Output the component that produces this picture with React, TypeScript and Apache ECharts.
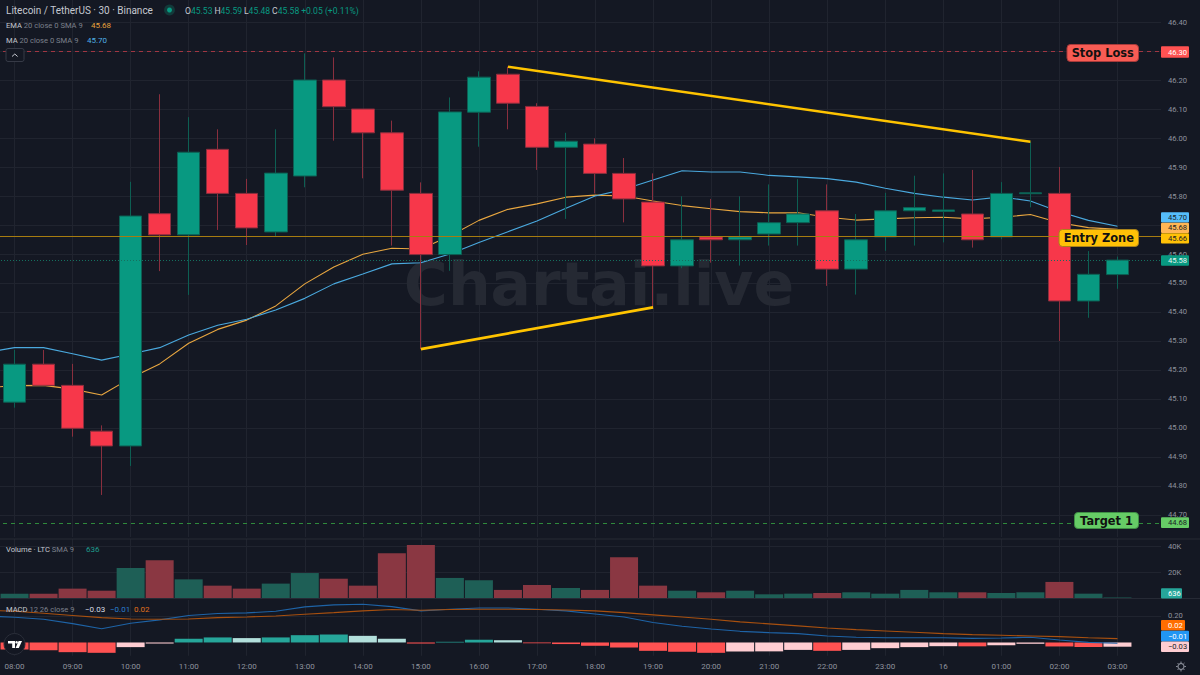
import React, { useEffect, useRef } from "react";
import * as echarts from "echarts";

const times = ["07:30","08:00","08:30","09:00","09:30","10:00","10:30","11:00","11:30","12:00","12:30","13:00","13:30","14:00","14:30","15:00","15:30","16:00","16:30","17:00","17:30","18:00","18:30","19:00","19:30","20:00","20:30","21:00","21:30","22:00","22:30","23:00","23:30","16","00:30","01:00","01:30","02:00","02:30","03:00","03:30"];
const opens = [45.089,45.220,45.147,44.989,44.938,45.739,45.666,45.961,45.809,45.676,45.869,46.200,46.100,46.018,45.809,45.598,46.089,46.220,46.109,45.968,45.979,45.878,45.779,45.559,45.659,45.649,45.669,45.708,45.749,45.548,45.659,45.749,45.747,45.738,45.659,45.808,45.809,45.438,45.529];
const closes = [45.220,45.147,44.999,44.938,45.731,45.666,45.951,45.809,45.690,45.879,46.200,46.108,46.018,45.820,45.598,46.090,46.210,46.120,45.968,45.989,45.878,45.790,45.559,45.649,45.649,45.659,45.708,45.738,45.548,45.649,45.749,45.760,45.752,45.649,45.809,45.811,45.438,45.530,45.579];
const highs = [45.269,45.269,45.221,45.009,45.849,46.151,46.072,46.030,45.859,46.030,46.292,46.278,46.100,46.060,45.847,46.140,46.230,46.246,46.120,46.018,45.999,45.931,45.878,45.799,45.790,45.799,45.840,45.858,45.840,45.738,45.811,45.870,45.878,45.890,45.848,45.987,45.900,45.610,45.591];
const lows = [45.070,45.147,44.970,44.769,44.869,45.541,45.459,45.683,45.631,45.659,45.830,45.991,45.861,45.629,45.272,45.542,45.970,46.030,45.890,45.721,45.809,45.709,45.416,45.551,45.570,45.560,45.629,45.629,45.490,45.460,45.611,45.629,45.640,45.622,45.651,45.761,45.300,45.380,45.480];
const maValues = [45.260,45.277,45.277,45.256,45.234,45.255,45.277,45.321,45.354,45.375,45.407,45.447,45.497,45.531,45.566,45.570,45.600,45.640,45.677,45.714,45.758,45.800,45.823,45.855,45.887,45.883,45.883,45.871,45.866,45.860,45.848,45.827,45.809,45.796,45.786,45.797,45.783,45.746,45.716,45.696];
const emaValues = [45.138,45.146,45.147,45.134,45.114,45.172,45.221,45.292,45.340,45.372,45.421,45.497,45.555,45.599,45.620,45.617,45.662,45.716,45.754,45.773,45.796,45.803,45.800,45.783,45.767,45.756,45.746,45.742,45.742,45.727,45.717,45.721,45.725,45.727,45.721,45.727,45.736,45.708,45.691,45.685];
const volumes = [3600,3600,7500,5900,23500,29500,14700,9800,7500,11400,19600,15200,9800,34900,41300,15800,14000,6500,10300,8000,6500,31800,9800,5900,4650,5900,3100,3600,4100,4650,3600,6500,4650,4650,4100,4650,12700,3600,636];
const histogram = [-0.053,-0.058,-0.073,-0.078,-0.035,-0.008,0.028,0.038,0.033,0.038,0.055,0.06,0.05,0.028,-0.008,0.005,0.02,0.017,-0.006,-0.012,-0.025,-0.038,-0.063,-0.07,-0.078,-0.068,-0.067,-0.056,-0.063,-0.056,-0.043,-0.035,-0.028,-0.029,-0.02,-0.01,-0.03,-0.034,-0.032];
const macdLine = [0.2,0.19,0.175,0.142,0.104,0.145,0.17,0.203,0.218,0.223,0.235,0.268,0.283,0.288,0.27,0.238,0.25,0.26,0.26,0.25,0.238,0.215,0.192,0.15,0.122,0.102,0.084,0.074,0.067,0.049,0.039,0.036,0.036,0.036,0.031,0.034,0.039,0.019,0.001,-0.006];
const signalLine = [0.243,0.235,0.22,0.203,0.187,0.177,0.175,0.177,0.187,0.192,0.2,0.213,0.225,0.238,0.248,0.243,0.248,0.25,0.25,0.248,0.245,0.238,0.225,0.208,0.192,0.175,0.155,0.14,0.125,0.109,0.097,0.087,0.077,0.067,0.059,0.054,0.049,0.044,0.036,0.029];
const priceTicks = [46.4,46.3,46.2,46.1,46.0,45.9,45.8,45.7,45.6,45.5,45.4,45.3,45.2,45.1,45.0,44.9,44.8,44.7];
const volumeTicks = [20000,40000];
const macdTicks = [0.2];
const stopLoss = 46.298;
const entryZone = 45.655;
const target1 = 44.675;
const lastClose = 45.58;
const trendUpper = [["16:30",46.246],["01:30",45.987]];
const trendLower = [["15:00",45.272],["19:00",45.416]];

const SHIFT = 29;
const BG = "#141823";
const GRID = "#20242f";
const AXIS_TEXT = "#8f939e";
const UP = "#089981";
const DOWN = "#f7374a";
const FONT = "Roboto";

function hourly(i: number) { return i % 2 === 1; }

function xAxis(gridIndex: number, showLabel: boolean) {
  return {
    type: "category", gridIndex, data: times, boundaryGap: true,
    axisLine: { show: false },
    axisTick: { show: false, alignWithLabel: true, interval: (i: number) => hourly(i) },
    splitLine: { show: true, alignWithLabel: true, interval: (i: number) => hourly(i), lineStyle: { color: GRID, width: 1 } },
    axisLabel: { show: showLabel, interval: (i: number) => hourly(i), color: AXIS_TEXT, fontSize: 8, fontFamily: FONT, margin: 7 },
  };
}
function yAxis(gridIndex: number, min: number, max: number, ticks: number[], fmt: (v: number) => string) {
  return {
    type: "value", gridIndex, position: "right", min, max, scale: true,
    axisLine: { show: false },
    axisTick: { show: false, customValues: ticks },
    splitLine: { show: true, lineStyle: { color: GRID, width: 1 } },
    axisLabel: { customValues: ticks, formatter: fmt, color: AXIS_TEXT, fontSize: 7.6, fontFamily: FONT, margin: 7 },
  };
}
function levelSeries(name: string, value: number, color: string, type: any, width = 1) {
  return {
    name, type: "line", xAxisIndex: 0, yAxisIndex: 0, z: 1, data: emaValues, showSymbol: false, symbol: "none",
    lineStyle: { opacity: 0, width: 0 },
    itemStyle: { color },
    markLine: {
      silent: true, symbol: "none", animation: false,
      lineStyle: { color, width, type, opacity: 1 }, label: { show: false },
      data: [{ yAxis: value }],
    },
  };
}

const sty = (fill: string, extra: object = {}) => ({ fill, fontSize: 7.6, fontFamily: FONT, ...extra });

function legend(x: number, y: number, text: string, rich: any, z = 50) {
  return { type: "text", x, y, z, style: { text, rich, fontFamily: FONT, fontSize: 7.6, fill: "#c5c8d0", verticalAlign: "middle", textVerticalAlign: "middle" } };
}
function axisTag(x1: number, x2: number, y1: number, y2: number, fill: string, textFill: string, text: string) {
  return [
    { type: "rect", z: 60, shape: { x: x1, y: y1, width: x2 - x1, height: y2 - y1, r: 1 }, style: { fill } },
    { type: "text", z: 61, x: x1 + 7, y: (y1 + y2) / 2, style: { text, fill: textFill, fontFamily: FONT, fontSize: 7.6, verticalAlign: "middle", textVerticalAlign: "middle" } },
  ];
}
function pill(x1: number, x2: number, y1: number, y2: number, fill: string, stroke: string, text: string) {
  return [
    { type: "rect", z: 70, shape: { x: x1, y: y1, width: x2 - x1, height: y2 - y1, r: 3.5 }, style: { fill, stroke, lineWidth: 1 } },
    { type: "text", z: 71, x: (x1 + x2) / 2, y: (y1 + y2) / 2, style: { text, fill: "#111111", fontFamily: "DejaVu Sans", fontWeight: "bold", fontSize: 11.4, align: "center", verticalAlign: "middle", textAlign: "center", textVerticalAlign: "middle" } },
  ];
}

function buildGraphics() {
  const rows: any[] = [];
  rows.push({ type: "text", z: 1, x: 599, y: 284, style: { text: "Chartai.live", fill: "#252933", fontFamily: "DejaVu Sans", fontWeight: "bold", fontSize: 60, align: "center", verticalAlign: "middle", textAlign: "center", textVerticalAlign: "middle" } });
  rows.push({ type: "line", z: 40, shape: { x1: 0, y1: 539, x2: 1200, y2: 539 }, style: { stroke: "#262a35", lineWidth: 1 } });
  rows.push({ type: "line", z: 40, shape: { x1: 0, y1: 598.5, x2: 1200, y2: 598.5 }, style: { stroke: "#262a35", lineWidth: 1 } });

  rows.push(legend(6, 10.5, "Litecoin / TetherUS · 30 · Binance", {}, 50));
  rows[rows.length - 1].style.fontSize = 10;
  rows.push({ type: "circle", z: 50, shape: { cx: 169.5, cy: 10, r: 5.4 }, style: { fill: "#123a3a" } });
  rows.push({ type: "circle", z: 51, shape: { cx: 169.5, cy: 10, r: 2.5 }, style: { fill: UP } });
  rows.push(legend(185, 10.5, "{k|O}{v|45.53} {k|H}{v|45.59} {k|L}{v|45.48} {k|C}{v|45.58} {v|+0.05 (+0.11%)}", { k: sty("#c5c8d0", { fontSize: 8.6 }), v: sty(UP, { fontSize: 8.6 }) }));
  rows.push(legend(6, 25.5, "{a|EMA} {b|20 close 0 SMA 9}", { a: sty("#c5c8d0"), b: sty("#7d818c") }));
  rows.push(legend(91, 25.5, "{c|45.68}", { c: sty("#e8a33d", { fontSize: 8 }) }));
  rows.push(legend(6, 40.5, "{a|MA} {b|20 close 0 SMA 9}", { a: sty("#c5c8d0"), b: sty("#7d818c") }));
  rows.push(legend(87, 40.5, "{c|45.70}", { c: sty("#4fb0e6", { fontSize: 8 }) }));
  rows.push({ type: "rect", z: 50, shape: { x: 6, y: 48.5, width: 18, height: 13, r: 2 }, style: { fill: BG, stroke: "#363a46", lineWidth: 1 } });
  rows.push({ type: "polyline", z: 51, shape: { points: [[12, 56.5], [14.8, 54], [17.6, 56.5]] }, style: { stroke: "#c5c8d0", lineWidth: 1, fill: "none" } });

  rows.push(legend(6, 549.5, "{a|Volume · LTC} {b|SMA 9}", { a: sty("#c5c8d0"), b: sty("#7d818c") }));
  rows.push(legend(86, 549.5, "{c|636}", { c: sty("#1f9e8c", { fontSize: 8 }) }));
  rows.push(legend(6, 609, "{a|MACD} {b|12 26 close 9}", { a: sty("#c5c8d0"), b: sty("#7d818c") }));
  rows.push(legend(85, 609, "{a|−0.03}", { a: sty("#d8dae0", { fontSize: 8 }) }));
  rows.push(legend(110, 609, "{a|−0.01}", { a: sty("#2b7fd0", { fontSize: 8 }) }));
  rows.push(legend(134, 609, "{a|0.02}", { a: sty("#e0701c", { fontSize: 8 }) }));

  rows.push({ type: "circle", z: 50, shape: { cx: 14.5, cy: 644, r: 10.5 }, style: { fill: "#131722", stroke: "#2a2e39", lineWidth: 1 } });
  rows.push({ type: "polygon", z: 51, shape: { points: [[8, 641], [15, 641], [15, 648], [12.2, 648], [12.2, 643.6], [8, 643.6]] }, style: { fill: "#ffffff" } });
  rows.push({ type: "circle", z: 51, shape: { cx: 16.6, cy: 642.3, r: 1.3 }, style: { fill: "#ffffff" } });
  rows.push({ type: "polygon", z: 51, shape: { points: [[18.6, 641], [22, 641], [18.8, 648], [15.6, 648]] }, style: { fill: "#ffffff" } });

  rows.push(...axisTag(1161, 1189, 46.3, 57.7, "#ff5252", "#ffffff", "46.30"));
  rows.push(...axisTag(1161, 1189, 212.3, 222.6, "#55bdfb", "#1a1d26", "45.70"));
  rows.push(...axisTag(1161, 1189, 222.8, 233, "#ffb655", "#1a1d26", "45.68"));
  rows.push(...axisTag(1161, 1189, 233.2, 243.4, "#ffc107", "#1a1d26", "45.66"));
  rows.push(...axisTag(1161, 1189, 255.3, 265.7, "#089981", "#e8f5f2", "45.58"));
  rows.push(...axisTag(1161, 1189, 517.3, 528, "#66cc66", "#1a1d26", "44.68"));
  rows.push(...axisTag(1161, 1182, 588.3, 598.5, "#26a69a", "#ffffff", "636"));
  rows.push(...axisTag(1161, 1185, 620, 630.6, "#ff6d00", "#ffffff", "0.02"));
  rows.push(...axisTag(1161, 1189, 630.8, 641.4, "#2196f3", "#ffffff", "−0.01"));
  rows.push(...axisTag(1161, 1189, 641.6, 652, "#ffcdd2", "#1a1d26", "−0.03"));

  rows.push(...pill(1067, 1138.5, 44.5, 61.5, "#f85c54", "#a83a3a", "Stop Loss"));
  rows.push(...pill(1059, 1138.5, 229.5, 246.5, "#ffc107", "#a9821a", "Entry Zone"));
  rows.push(...pill(1074.5, 1138.5, 512.5, 528.5, "#66cc66", "#3f8f45", "Target 1"));

  rows.push({ type: "ring", z: 50, shape: { cx: 1181, cy: 666.5, r: 3.6, r0: 2.4 }, style: { fill: "#868a95" } });
  [[0, -5], [3.5, -3.5], [5, 0], [3.5, 3.5], [0, 5], [-3.5, 3.5], [-5, 0], [-3.5, -3.5]].forEach(([dx, dy]) => {
    rows.push({ type: "line", z: 50, shape: { x1: 1181 + dx * 0.65, y1: 666.5 + dy * 0.65, x2: 1181 + dx, y2: 666.5 + dy }, style: { stroke: "#868a95", lineWidth: 1 } });
  });
  return rows;
}

export default function App() {
  const ref = useRef<HTMLDivElement>(null);
  useEffect(() => {
    document.body.style.margin = "0";
    document.body.style.background = BG;
    const chart = echarts.init(ref.current!, undefined, { renderer: "svg" });
    const blank = ["-", "-", "-", "-"];
    const candles = [blank, ...opens.map((o, i) => [o, closes[i], lows[i], highs[i]])];
    const volumeItems = ["-", ...volumes.map((v, i) => ({
      value: v,
      itemStyle: { color: closes[i] >= opens[i] ? "#1e5f56" : "#8a3742" },
    }))];
    const histItems = ["-", ...histogram.map((v, i) => {
      const prev = i === 0 ? 0 : histogram[i - 1];
      const color = v >= 0 ? (v >= prev ? "#26a69a" : "#b2dfdb") : (v < prev ? "#ff5252" : "#ffcdd2");
      return { value: v, itemStyle: { color } };
    })];
    chart.setOption({
      animation: false,
      backgroundColor: BG,
      tooltip: { show: false },
      grid: [
        { left: 0, width: 1190, top: 0, height: 537 },
        { left: 0, width: 1190, top: 539, height: 59.3 },
        { left: 0, width: 1190, top: 600, height: 55.75 },
      ],
      xAxis: [xAxis(0, false), xAxis(1, false), xAxis(2, true)],
      yAxis: [
        yAxis(0, 44.624, 46.476, priceTicks, (v) => v.toFixed(2)),
        yAxis(1, 0, 46000, volumeTicks, (v) => v / 1000 + "K"),
        yAxis(2, -0.1, 0.32, macdTicks, (v) => v.toFixed(2)),
      ],
      series: [
        levelSeries("Stop Loss", stopLoss, "#a03642", [4, 4], 1.2),
        levelSeries("Entry Zone", entryZone, "#a67c10", "solid"),
        levelSeries("Target 1", target1, "#2f8a3c", [4, 4], 1.2),
        levelSeries("Last", lastClose, "#14705f", [1, 2]),
        { name: "EMA", type: "line", xAxisIndex: 0, yAxisIndex: 0, z: 2, data: emaValues, showSymbol: false, symbol: "none", lineStyle: { color: "#e9a740", width: 1.1 } },
        { name: "MA", type: "line", xAxisIndex: 0, yAxisIndex: 0, z: 2, data: maValues, showSymbol: false, symbol: "none", lineStyle: { color: "#4aa9de", width: 1.1 } },
        {
          name: "Price", type: "candlestick", xAxisIndex: 0, yAxisIndex: 0, z: 3, barWidth: 23, data: candles,
          itemStyle: { color: UP, color0: DOWN, borderColor: "#0d5f53", borderColor0: "#8a2f3e", borderWidth: 1 },
        },
        {
          name: "Trend", type: "line", xAxisIndex: 0, yAxisIndex: 0, z: 4, data: emaValues, showSymbol: false, symbol: "none",
          lineStyle: { opacity: 0, width: 0 },
          markLine: {
            silent: true, symbol: "none", animation: false,
            lineStyle: { color: "#ffc400", width: 2.6, type: "solid" }, label: { show: false },
            data: [
              [{ coord: trendUpper[0] }, { coord: trendUpper[1] }],
              [{ coord: trendLower[0] }, { coord: trendLower[1] }],
            ],
          },
        },
        { name: "Volume", type: "bar", xAxisIndex: 1, yAxisIndex: 1, barWidth: 28, data: volumeItems },
        { name: "Histogram", type: "bar", xAxisIndex: 2, yAxisIndex: 2, barWidth: 28, data: histItems },
        { name: "MACD", type: "line", xAxisIndex: 2, yAxisIndex: 2, z: 4, data: macdLine, showSymbol: false, symbol: "none", lineStyle: { color: "#1e63a6", width: 1.1 } },
        { name: "Signal", type: "line", xAxisIndex: 2, yAxisIndex: 2, z: 4, data: signalLine, showSymbol: false, symbol: "none", lineStyle: { color: "#a8500f", width: 1.1 } },
      ],
      graphic: { elements: [{ type: "group", x: SHIFT, y: 0, children: buildGraphics() }] },
    });
    return () => chart.dispose();
  }, []);
  return <div ref={ref} style={{ width: 1229, height: 675, position: "fixed", left: -SHIFT, top: 0 }} />;
}
